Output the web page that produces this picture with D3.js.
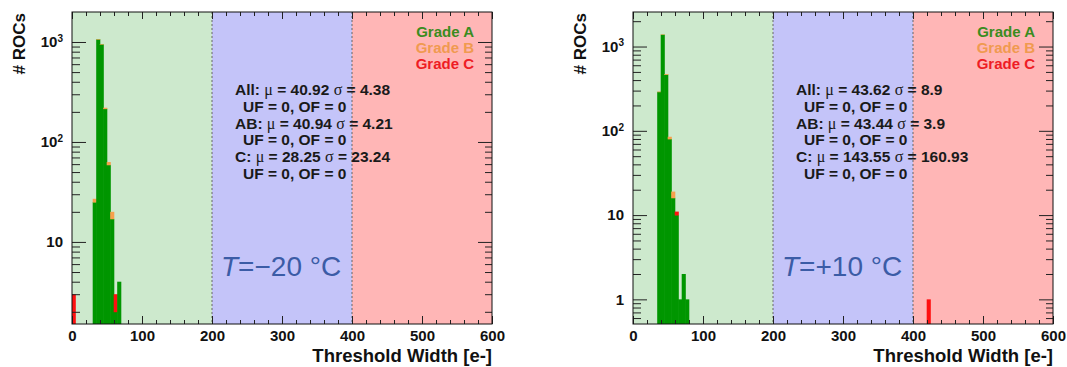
<!DOCTYPE html>
<html>
<head>
<meta charset="utf-8">
<script src="https://cdn.jsdelivr.net/npm/d3@7"></script>
<style>
  body { margin: 0; background: #fff; }
  text { font-family: "Liberation Sans", Arial, sans-serif; }
</style>
</head>
<body>
<div id="chart"></div>
<script>
// histogram data, bin width 5 e-, bins given by their lower edge
const binWidth = 5;

const leftBins = [0, 30, 35, 40, 45, 50, 55, 60, 65];
const leftA    = [0, 25, 1065, 950, 215, 59, 17, 2, 4];
const leftB    = [0, 2, 5, 5, 5, 4, 3, 0, 0];
const leftC    = [3, 0, 0, 0, 0, 0, 0, 1, 0];

const rightBins = [35, 40, 45, 50, 55, 60, 65, 70, 75, 420];
const rightA    = [290, 1385, 465, 80, 16, 10, 1, 2, 1, 0];
const rightB    = [2, 5, 6, 5, 3, 0, 0, 0, 0, 0];
const rightC    = [0, 0, 0, 0, 0, 1, 0, 0, 0, 1];

const bandEdges = [0, 200, 400, 600];
const xTicks = [0, 100, 200, 300, 400, 500, 600];
const gradeNames = ["Grade A", "Grade B", "Grade C"];

const leftStats = ["All: μ = 40.92 σ = 4.38", "UF = 0, OF = 0",
                   "AB: μ = 40.94 σ = 4.21", "UF = 0, OF = 0",
                   "C: μ = 28.25 σ = 23.24", "UF = 0, OF = 0"];
const rightStats = ["All: μ = 43.62 σ = 8.9", "UF = 0, OF = 0",
                    "AB: μ = 43.44 σ = 3.9", "UF = 0, OF = 0",
                    "C: μ = 143.55 σ = 160.93", "UF = 0, OF = 0"];

const leftTemp = "=−20 °C";
const rightTemp = "=+10 °C";

const bandColors = ["#cde9cd", "#c4c4f9", "#ffb6b6"];
const gradeColors = ["#009600", "#f7a04c", "#ff1010"];
const legendColors = ["#3a8c1e", "#f09a50", "#ee1c24"];

const width = 1067, height = 367;
const svg = d3.select("#chart").append("svg")
    .attr("width", width)
    .attr("height", height);

function drawPanel(cfg) {
  const top = 12, bottom = 324;
  const x = d3.scaleLinear().domain([0, 600]).range([cfg.x0, cfg.x0 + 420]);
  const y = d3.scaleLog().domain(cfg.yDomain).range([bottom, top]);
  const g = svg.append("g");

  const clipId = "clip" + cfg.x0;
  svg.append("clipPath").attr("id", clipId)
    .append("rect")
      .attr("x", x(0)).attr("y", top)
      .attr("width", x(600) - x(0)).attr("height", bottom - top);

  // coloured bands
  g.selectAll("rect.band")
    .data(bandEdges.slice(0, -1))
    .join("rect")
      .attr("class", "band")
      .attr("x", d => x(d))
      .attr("y", top)
      .attr("width", (d, i) => x(bandEdges[i + 1]) - x(d))
      .attr("height", bottom - top)
      .attr("fill", (d, i) => bandColors[i]);

  // stacked bars A, B, C
  const segs = [];
  cfg.bins.forEach(function(b, i) {
    let cum = 0;
    [cfg.A[i], cfg.B[i], cfg.C[i]].forEach(function(v, k) {
      if (v > 0) {
        segs.push({bin: b, lo: cum, hi: cum + v, k: k});
        cum += v;
      }
    });
  });
  const ymin = cfg.yDomain[0];
  g.append("g").attr("clip-path", "url(#" + clipId + ")")
    .selectAll("rect")
    .data(segs)
    .join("rect")
      .attr("x", d => x(d.bin) - 0.3)
      .attr("width", d => x(d.bin + binWidth) - x(d.bin) + 0.6)
      .attr("y", d => y(d.hi))
      .attr("height", d => y(Math.max(d.lo, ymin)) - y(d.hi) + 0.4)
      .attr("fill", d => gradeColors[d.k]);

  // dashed separators
  g.selectAll("line.sep")
    .data([200, 400])
    .join("line")
      .attr("x1", d => x(d)).attr("x2", d => x(d))
      .attr("y1", top).attr("y2", bottom)
      .attr("stroke", "#666")
      .attr("stroke-width", 1)
      .attr("stroke-dasharray", "2,2");

  // x axes (ticks pointing in)
  const minorX = d3.range(0, 601, 20);
  const xAxisStyle = sel => { sel.select(".domain").remove(); sel.selectAll("line").attr("stroke", "#222"); };
  g.append("g").attr("transform", `translate(0,${bottom})`)
    .call(d3.axisBottom(x).tickValues(minorX).tickSize(-4).tickFormat(""))
    .call(xAxisStyle);
  g.append("g").attr("transform", `translate(0,${bottom})`)
    .call(d3.axisBottom(x).tickValues(xTicks).tickSize(-8).tickPadding(6))
    .call(xAxisStyle)
    .selectAll("text")
      .attr("font-size", "15px").attr("font-weight", "bold")
      .attr("fill", "#111")
      .attr("font-family", "Liberation Sans, Arial, sans-serif");
  g.append("g").attr("transform", `translate(0,${top})`)
    .call(d3.axisTop(x).tickValues(minorX).tickSize(-4).tickFormat(""))
    .call(xAxisStyle);
  g.append("g").attr("transform", `translate(0,${top})`)
    .call(d3.axisTop(x).tickValues(xTicks).tickSize(-7).tickFormat(""))
    .call(xAxisStyle);

  // y axes (log)
  const decades = [0.1, 1, 10, 100, 1000, 10000];
  const major = decades.filter(d => d >= cfg.yDomain[0] && d <= cfg.yDomain[1]);
  const minor = [];
  decades.forEach(d => d3.range(2, 10).forEach(m => {
    const v = d * m;
    if (v >= cfg.yDomain[0] && v <= cfg.yDomain[1]) minor.push(v);
  }));
  g.append("g").attr("transform", `translate(${x(0)},0)`)
    .call(d3.axisLeft(y).tickValues(minor).tickSize(-8).tickFormat(""))
    .call(xAxisStyle);
  g.append("g").attr("transform", `translate(${x(600)},0)`)
    .call(d3.axisRight(y).tickValues(minor).tickSize(-7).tickFormat(""))
    .call(xAxisStyle);
  g.append("g").attr("transform", `translate(${x(600)},0)`)
    .call(d3.axisRight(y).tickValues(major).tickSize(-14).tickFormat(""))
    .call(xAxisStyle);
  const yAx = g.append("g").attr("transform", `translate(${x(0)},0)`)
    .call(d3.axisLeft(y).tickValues(major).tickSize(-14).tickPadding(9).tickFormat(""))
    .call(xAxisStyle);
  yAx.selectAll(".tick text").each(function(d) {
    const t = d3.select(this)
      .attr("font-size", "15px").attr("font-weight", "bold")
      .attr("fill", "#111")
      .attr("font-family", "Liberation Sans, Arial, sans-serif");
    const p = Math.round(Math.log10(d));
    if (p === 0) t.text("1");
    else if (p === 1) t.text("10");
    else {
      t.append("tspan").text("10");
      t.append("tspan").attr("font-size", "10px").attr("dy", "-0.55em").text(p);
    }
  });

  // frame
  g.append("rect")
    .attr("x", x(0)).attr("y", top)
    .attr("width", x(600) - x(0)).attr("height", bottom - top)
    .attr("fill", "none").attr("stroke", "#111").attr("stroke-width", 1);

  // axis titles
  g.append("text")
    .attr("x", x(600)).attr("y", 362)
    .attr("text-anchor", "end")
    .attr("font-size", "18.5px").attr("font-weight", "bold").attr("fill", "#111")
    .text("Threshold Width [e-]");
  g.append("text")
    .attr("transform", `translate(${x(0) - 47},13) rotate(-90)`)
    .attr("text-anchor", "end")
    .attr("font-size", "17px").attr("font-weight", "bold").attr("fill", "#111")
    .text("# ROCs");

  // legend
  g.selectAll("text.leg")
    .data(gradeNames)
    .join("text")
      .attr("class", "leg")
      .attr("x", x(600) - 18)
      .attr("y", (d, i) => 37 + i * 16)
      .attr("text-anchor", "end")
      .attr("font-size", "15px").attr("font-weight", "bold")
      .attr("fill", (d, i) => legendColors[i])
      .text(d => d);

  // statistics box
  g.selectAll("text.stat")
    .data(cfg.stats)
    .join("text")
      .attr("class", "stat")
      .attr("x", (d, i) => x(0) + (i % 2 ? 171 : 163))
      .attr("y", (d, i) => 95 + i * 16.8)
      .attr("font-size", "15.5px").attr("font-weight", "bold").attr("fill", "#1a1a1a")
      .each(function(d) {
        const t = d3.select(this);
        d.split(/([μσ])/).forEach(function(part) {
          if (part === "μ" || part === "σ")
            t.append("tspan").attr("font-family", "Liberation Serif, serif")
              .attr("font-weight", "normal").attr("font-size", "16px").text(part);
          else
            t.append("tspan").text(part);
        });
      });

  // temperature
  const tt = g.append("text")
    .attr("x", x(0) + 149).attr("y", 276)
    .attr("font-size", "28px").attr("fill", "#3b5ca6");
  tt.append("tspan").attr("font-style", "italic").text("T");
  tt.append("tspan").text(cfg.temp);
}

drawPanel({x0: 72, yDomain: [1.51, 1995], bins: leftBins, A: leftA, B: leftB, C: leftC,
           stats: leftStats, temp: leftTemp});
drawPanel({x0: 633, yDomain: [0.51, 2570], bins: rightBins, A: rightA, B: rightB, C: rightC,
           stats: rightStats, temp: rightTemp});
</script>
</body>
</html>
